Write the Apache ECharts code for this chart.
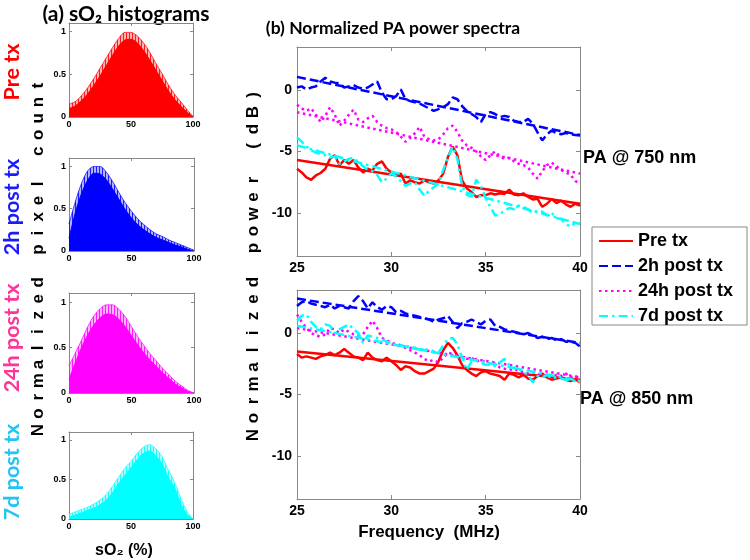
<!DOCTYPE html>
<html><head><meta charset="utf-8">
<script src="https://cdn.jsdelivr.net/npm/echarts@6/dist/echarts.min.js"></script>
<style>html,body{margin:0;padding:0;background:#fff}#c{width:750px;height:560px}</style>
</head><body><div id="c"></div>
<script>
// ---------- DATA ----------
const sO2Bins = [0,5,10,15,20,25,30,35,40,45,50,55,60,65,70,75,80,85,90,95,100];
const histPreMean   = [0.10,0.13,0.19,0.27,0.37,0.48,0.60,0.72,0.83,0.90,0.91,0.87,0.78,0.67,0.55,0.43,0.31,0.21,0.13,0.06,0.00];
const histPreUpper  = [0.15,0.18,0.25,0.34,0.45,0.57,0.69,0.81,0.92,0.99,0.99,0.95,0.87,0.76,0.63,0.51,0.38,0.27,0.18,0.09,0.01];
const hist2hMean    = [0.15,0.45,0.68,0.84,0.92,0.91,0.84,0.73,0.61,0.49,0.39,0.31,0.25,0.20,0.16,0.13,0.10,0.07,0.05,0.02,0.00];
const hist2hUpper   = [0.32,0.58,0.80,0.95,1.00,1.00,0.93,0.82,0.69,0.57,0.47,0.38,0.31,0.25,0.20,0.17,0.13,0.10,0.07,0.04,0.01];
const hist24hMean   = [0.15,0.33,0.50,0.64,0.75,0.83,0.87,0.86,0.81,0.73,0.63,0.53,0.44,0.36,0.29,0.22,0.16,0.10,0.06,0.02,0.00];
const hist24hUpper  = [0.30,0.44,0.58,0.73,0.85,0.93,0.97,0.97,0.92,0.84,0.73,0.62,0.52,0.43,0.35,0.27,0.20,0.13,0.08,0.03,0.00];
const hist7dMean    = [0.03,0.05,0.08,0.11,0.14,0.18,0.24,0.33,0.45,0.55,0.65,0.75,0.83,0.86,0.80,0.70,0.53,0.40,0.20,0.06,0.00];
const hist7dUpper   = [0.06,0.09,0.12,0.15,0.19,0.24,0.31,0.41,0.53,0.64,0.73,0.83,0.91,0.94,0.89,0.79,0.62,0.47,0.27,0.10,0.00];
const histXTicks = [0,50,100];
const histYTicks = [0,0.5,1];

const freq = [25,25.25,25.5,25.75,26,26.25,26.5,26.75,27,27.25,27.5,27.75,28,28.25,28.5,28.75,29,29.25,29.5,29.75,
  30,30.25,30.5,30.75,31,31.25,31.5,31.75,32,32.25,32.5,32.75,33,33.25,33.5,33.75,34,34.25,34.5,34.75,
  35,35.25,35.5,35.75,36,36.25,36.5,36.75,37,37.25,37.5,37.75,38,38.25,38.5,38.75,39,39.25,39.5,39.75,40];
const fitFreq = [25,40];

// PA @ 750 nm
const pa750Pre = [-6.4,-6.7,-7.1,-7.3,-6.95,-6.75,-6.4,-5.6,-5.3,-6.1,
  -5.7,-6.0,-5.7,-6.3,-6.7,-6.4,-6.55,-6.0,-5.8,-6.4,
  -6.7,-6.95,-6.8,-7.6,-7.35,-7.5,-7.6,-7.35,-7.5,-7.6,
  -7.35,-6.8,-5.45,-4.6,-5.3,-7.35,-8.0,-8.3,-8.7,-8.55,
  -8.55,-8.4,-8.5,-8.4,-8.45,-8.1,-8.5,-8.55,-8.4,-8.7,
  -8.9,-8.85,-9.5,-9.25,-8.85,-9.2,-9.0,-9.3,-9.5,-9.25,-9.4];
const pa750_2h = [0.2,0.3,0.05,0.2,0.3,0.7,1.0,0.7,0.6,0.55,
  0.2,0.3,0.4,0.2,0.1,0.2,0.45,0.7,-0.2,-0.75,
  -0.75,-0.5,0.05,-0.75,-0.9,-1.0,-1.1,-1.3,-1.5,-1.7,
  -1.55,-1.4,-1.15,-0.6,-0.75,-1.3,-1.7,-1.95,-2.2,-2.6,
  -1.95,-1.8,-1.95,-2.2,-2.1,-2.2,-2.5,-2.6,-2.6,-2.35,
  -2.75,-3.45,-4.1,-3.6,-3.3,-3.5,-3.6,-3.5,-3.6,-3.65,-3.7];
const pa750_24h = [-1.2,-1.5,-1.7,-1.5,-2.0,-2.6,-2.1,-1.4,-2.0,-2.9,
  -2.5,-2.0,-1.6,-2.4,-2.6,-2.3,-2.1,-2.6,-2.9,-3.1,
  -3.2,-3.4,-3.8,-4.2,-3.9,-3.5,-3.0,-3.8,-4.0,-4.1,
  -4.0,-3.6,-3.1,-2.9,-3.4,-4.1,-4.5,-4.7,-5.0,-5.4,
  -5.7,-5.3,-5.0,-5.4,-5.6,-5.5,-5.8,-6.0,-6.1,-6.3,
  -6.8,-7.2,-6.6,-6.1,-5.9,-6.2,-6.5,-6.7,-6.9,-7.4,-7.6];
const pa750_7d = [-3.85,-4.2,-4.6,-4.9,-5.1,-5.2,-5.3,-5.5,-5.4,-6.0,
  -5.8,-5.6,-5.5,-5.9,-6.2,-6.5,-6.6,-6.9,-7.5,-7.2,
  -6.8,-7.0,-7.4,-7.8,-7.6,-7.5,-8.1,-8.6,-8.2,-7.9,
  -7.6,-6.5,-5.5,-4.6,-5.6,-7.8,-8.5,-8.7,-7.3,-7.8,
  -8.8,-9.5,-10.2,-10.1,-9.8,-9.6,-9.7,-9.4,-9.5,-9.7,
  -10.0,-9.8,-9.9,-10.2,-10.0,-10.4,-10.5,-10.9,-11.1,-10.8,-10.9];
const pa750PreFit = [-5.7,-9.25];
const pa750_2hFit = [1.07,-3.66];
const pa750_24hFit = [-1.8,-6.8];
const pa750_7dFit = [-4.5,-10.9];

// PA @ 850 nm
const pa850Pre = [-1.7,-2.0,-1.9,-2.0,-2.1,-1.9,-1.8,-1.6,-1.8,-1.6,
  -1.3,-1.6,-1.9,-2.0,-2.2,-1.6,-2.0,-2.2,-2.3,-2.0,
  -2.3,-2.6,-3.0,-2.7,-2.8,-3.1,-3.3,-3.3,-3.1,-2.9,
  -2.3,-1.4,-0.8,-1.2,-1.8,-2.6,-3.0,-3.3,-3.5,-3.2,
  -3.1,-3.3,-3.4,-3.5,-3.8,-3.3,-3.4,-3.6,-3.4,-3.7,
  -3.8,-3.5,-3.3,-3.6,-3.8,-3.7,-3.6,-3.8,-3.9,-3.8,-4.0];
const pa850_2h = [2.2,2.5,2.6,2.4,2.3,2.2,2.1,2.3,2.0,2.2,
  2.1,2.0,2.6,3.0,2.6,2.0,2.5,2.1,1.9,2.2,
  2.1,1.7,1.8,1.6,1.5,1.4,1.3,1.2,1.1,0.9,
  1.1,1.2,1.4,0.9,0.4,0.8,0.9,1.1,0.9,0.7,
  1.0,1.1,0.6,0.5,0.3,0.2,0.1,0.0,-0.1,0.0,
  -0.2,-0.4,-0.3,-0.5,-0.4,-0.6,-0.5,-0.7,-0.7,-0.8,-1.1];
const pa850_24h = [1.5,0.9,0.4,0.0,-0.2,-0.3,-0.1,0.4,0.3,0.0,
  0.3,0.1,-0.1,-0.2,-0.1,0.5,1.0,0.4,-0.4,-0.6,
  -0.8,-0.9,-1.0,-1.2,-1.4,-1.6,-1.8,-2.1,-2.3,-2.2,
  -2.4,-2.0,-1.6,-1.7,-1.9,-2.0,-2.1,-2.0,-2.3,-2.2,
  -2.4,-2.6,-2.5,-2.8,-2.9,-3.0,-2.9,-3.1,-3.2,-3.3,
  -3.2,-3.3,-3.5,-3.4,-3.6,-3.4,-3.5,-3.3,-3.6,-3.5,-3.7];
const pa850_7d = [1.0,1.4,1.5,0.9,0.5,0.3,0.7,0.6,0.0,0.3,
  0.5,0.7,0.3,0.0,-0.8,-0.2,-0.3,-0.4,-0.5,-0.7,
  -0.8,-1.0,-1.0,-1.1,-1.1,-1.2,-1.3,-1.4,-1.3,-1.5,
  -1.6,-1.0,-0.5,-0.4,-0.9,-2.0,-3.0,-2.3,-2.2,-2.4,
  -2.6,-2.5,-2.7,-2.4,-2.1,-2.6,-2.8,-2.9,-3.2,-3.4,
  -4.0,-3.5,-3.6,-3.4,-3.7,-3.6,-3.7,-3.8,-3.8,-3.9,-4.0];
const pa850PreFit = [-1.5,-3.8];
const pa850_2hFit = [2.8,-0.8];
const pa850_24hFit = [0.4,-3.6];
const pa850_7dFit = [0.6,-3.9];

const specXTicks = [25,30,35,40];
const specYTicks = [-10,-5,0];
const groupNames = ['Pre tx','2h post tx','24h post tx','7d post tx'];

// ---------- STYLE / LAYOUT ----------
const ARIAL = 'Liberation Sans, Arial, sans-serif';
const CAL = 'Lato, Open Sans, sans-serif';
const cols = ['#ff0000','#0000ff','#ff00ff','#00ffff'];
const dashes = ['solid',[9,4],[2.5,3.5],[9,4,2.5,4]];
const labelCols = ['#ff0000','#1a1aff','#ff3399','#22c4f4'];

const histGrids = [
  {left:69, top:23, width:124, height:94},
  {left:69, top:158, width:125, height:93},
  {left:69, top:293, width:125, height:100},
  {left:69, top:432, width:124, height:87}
];
const specGrids = [
  {left:297, top:47, width:283, height:209},
  {left:297, top:290, width:283, height:209}
];

const grids = [], xAxes = [], yAxes = [], series = [];
function addBox(g, xmin, xmax, ymin, ymax, xt, yt, fs, tl, margin) {
  const gi = grids.length;
  grids.push(Object.assign({containLabel:false}, g));
  const line = {onZero:false, lineStyle:{color:'#888', width:1}};
  const tick = (vals)=>({inside:true, length:tl, customValues:vals, lineStyle:{color:'#888'}});
  const lab = (vals)=>({customValues:vals, fontSize:fs, fontWeight:'bold', color:'#000', fontFamily:ARIAL, margin});
  xAxes.push({gridIndex:gi, type:'value', min:xmin, max:xmax, position:'bottom', axisLine:line, axisTick:tick(xt), axisLabel:lab(xt), splitLine:{show:false}});
  xAxes.push({gridIndex:gi, type:'value', min:xmin, max:xmax, position:'top', axisLine:line, axisTick:tick(xt), axisLabel:{show:false}, splitLine:{show:false}});
  yAxes.push({gridIndex:gi, type:'value', min:ymin, max:ymax, position:'left', axisLine:line, axisTick:tick(yt), axisLabel:lab(yt), splitLine:{show:false}});
  yAxes.push({gridIndex:gi, type:'value', min:ymin, max:ymax, position:'right', axisLine:line, axisTick:tick(yt), axisLabel:{show:false}, splitLine:{show:false}});
  return gi;
}

function stripe(color) {
  const c = document.createElement('canvas');
  c.width = 3; c.height = 4;
  const ctx = c.getContext('2d');
  ctx.fillStyle = '#ffffff'; ctx.fillRect(0,0,3,4);
  ctx.globalAlpha = 0.3; ctx.fillStyle = color; ctx.fillRect(0,0,3,4);
  ctx.globalAlpha = 0.85; ctx.fillRect(0,0,1,4);
  return c;
}

const histSets = [
  [histPreMean, histPreUpper],
  [hist2hMean, hist2hUpper],
  [hist24hMean, hist24hUpper],
  [hist7dMean, hist7dUpper]
];
histSets.forEach((hs, k) => {
  const gi = addBox(histGrids[k], 0, 100, 0, 1.1, histXTicks, histYTicks, 9, 3, 3);
  const idx = gi * 2;
  series.push({type:'line', xAxisIndex:idx, yAxisIndex:idx, smooth:0.3, symbol:'none', silent:true,
    data: sO2Bins.map((b,i)=>[b, hs[1][i]]),
    lineStyle:{color:cols[k], width:1, opacity:0.7},
    areaStyle:{color:{image:stripe(cols[k]), repeat:'repeat'}, opacity:1}});
  series.push({type:'line', xAxisIndex:idx, yAxisIndex:idx, smooth:0.3, symbol:'none', silent:true,
    data: sO2Bins.map((b,i)=>[b, hs[0][i]]),
    lineStyle:{color:cols[k], width:1},
    areaStyle:{color:cols[k], opacity:1}});
});

const specSets = [
  [[pa750Pre, pa750PreFit],[pa750_2h, pa750_2hFit],[pa750_24h, pa750_24hFit],[pa750_7d, pa750_7dFit]],
  [[pa850Pre, pa850PreFit],[pa850_2h, pa850_2hFit],[pa850_24h, pa850_24hFit],[pa850_7d, pa850_7dFit]]
];
specSets.forEach((set, p) => {
  const gi = addBox(specGrids[p], 25, 40, -13.5, 3.5, specXTicks, specYTicks, 14, 4, 5);
  const idx = gi * 2;
  set.forEach((pair, k) => {
    const ls = {color:cols[k], width:2.5, type:dashes[k]};
    series.push({type:'line', name:groupNames[k], xAxisIndex:idx, yAxisIndex:idx, symbol:'none', silent:true,
      data: freq.map((f,i)=>[f, pair[0][i]]), lineStyle:ls, itemStyle:{color:cols[k]}});
    series.push({type:'line', name:groupNames[k], xAxisIndex:idx, yAxisIndex:idx, symbol:'none', silent:true,
      data: fitFreq.map((f,i)=>[f, pair[1][i]]), lineStyle:ls, itemStyle:{color:cols[k]}});
  });
});

// text graphics
const graphics = [];
function txt(text, x, y, opts) {
  graphics.push(Object.assign({type:'text', x, y, silent:true,
    style:Object.assign({text, textAlign:'center', textVerticalAlign:'middle', fill:'#000',
      fontFamily:ARIAL, fontWeight:'bold', fontSize:16}, opts.style || {})}, opts.el || {}));
}
txt('(a) sO₂ histograms', 126, 14, {style:{fontFamily:CAL, fontSize:21}});
txt('(b) Normalized PA power spectra', 393, 28, {style:{fontFamily:CAL, fontSize:17.5}});
const sideY = [72, 207, 338, 472];
groupNames.forEach((n,k)=>txt(n, 12, sideY[k], {style:{fontFamily:CAL, fontSize:21.5, fill:labelCols[k]}, el:{rotation:Math.PI/2}}));
function spaced(text, x, yBottom, pitch, fs) {
  for (let i = 0; i < text.length; i++) {
    const ch = text[i];
    if (ch === ' ') continue;
    txt(ch, x, yBottom - i*pitch, {style:{fontSize:fs}, el:{rotation:Math.PI/2}});
  }
}
spaced('Normalized pixel count', 38, 430, 16.4, 17);
spaced('Normalized power (dB)', 253, 435, 17.0, 17);
txt('sO₂ (%)', 124, 551, {style:{fontSize:16}});
txt('Frequency  (MHz)', 429, 532, {style:{fontSize:17}});
txt('PA @ 750 nm', 583, 158, {style:{fontSize:18, textAlign:'left'}});
txt('PA @ 850 nm', 580, 399, {style:{fontSize:18, textAlign:'left'}});

const chart = echarts.init(document.getElementById('c'), null, {renderer:'canvas'});
chart.setOption({
  animation:false,
  backgroundColor:'#fff',
  grid:grids, xAxis:xAxes, yAxis:yAxes, series,
  legend:{data:groupNames, orient:'vertical', left:592, top:227, itemWidth:34, itemHeight:12, itemGap:7,
    padding:[5,14,0,6], borderColor:'#888', borderWidth:1, backgroundColor:'#fff', selectedMode:false,
    itemStyle:{color:'rgba(0,0,0,0)', borderColor:'rgba(0,0,0,0)', borderWidth:0, opacity:0},
    textStyle:{fontFamily:ARIAL, fontWeight:'bold', fontSize:18, color:'#000'}},
  graphic:graphics
});
</script>
</body></html>
